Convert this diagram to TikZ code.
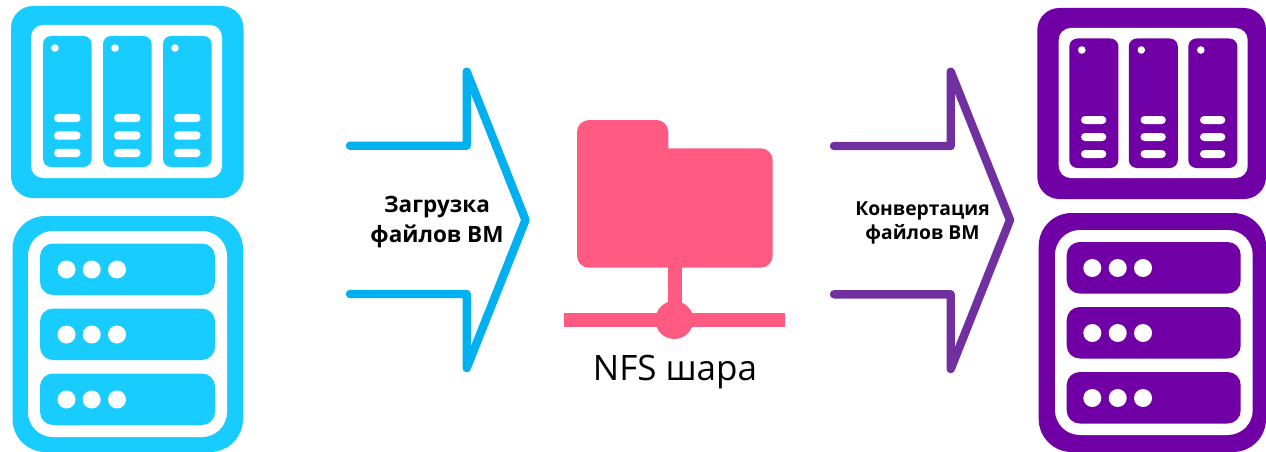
\documentclass[tikz,border=0pt]{standalone}
\usepackage{fontspec}
\setmainfont{Open Sans}
\definecolor{iconblue}{HTML}{19CCFF}
\definecolor{iconpurple}{HTML}{7000A5}
\definecolor{arrowblue}{HTML}{00B0F0}
\definecolor{arrowpurple}{HTML}{7030A0}
\definecolor{sharepink}{HTML}{FF5B82}
\tikzset{
  blockarrow/.style={line width=8.4pt,line cap=round,line join=round},
  hole/.style={fill=white},
  boldlabel/.style={align=center,font=\bfseries,inner sep=0pt},
}
\begin{document}
\begin{tikzpicture}[x=1pt,y=-1pt]
\useasboundingbox (0,0) rectangle (1266,452);
\fill[white] (0,0) rectangle (1266,452);
% left NAS
\fill[iconblue,rounded corners=22pt] (11,6) rectangle (243.5,198);
\fill[hole,rounded corners=12pt] (31,25) rectangle (222,178);
\foreach \x in {43,103,163}{
  \fill[iconblue,rounded corners=8pt] (\x,36) rectangle (\x+48.5,167);
  \fill[hole] (\x+12,48) circle[radius=3.8];
  \foreach \y in {118,135.5,153}
    \fill[hole,rounded corners=4pt] (\x+11,\y-4.2) rectangle (\x+37.5,\y+4.2);
}
% left rack
\fill[iconblue,rounded corners=33pt] (12.5,216) rectangle (243,452);
\fill[hole,rounded corners=25pt] (28,231) rectangle (227,437);
\foreach \y in {243.5,308.5,373.5}{
  \fill[iconblue,rounded corners=13pt] (40,\y) rectangle (215,\y+51.5);
  \foreach \x in {66.5,91.7,117}
    \fill[hole] (\x,\y+26) circle[radius=9];
}
% right NAS
\fill[iconpurple,rounded corners=22pt] (1037.3,8) rectangle (1266,199);
\fill[hole,rounded corners=12pt] (1058.7,28) rectangle (1247.7,178);
\foreach \x in {1069.3,1128.8,1188.3}{
  \fill[iconpurple,rounded corners=8pt] (\x,38.5) rectangle (\x+49,168);
  \fill[hole] (\x+12.5,50) circle[radius=3.8];
  \foreach \y in {120,137,154}
    \fill[hole,rounded corners=4pt] (\x+11.7,\y-4) rectangle (\x+37,\y+4);
}
% right rack
\fill[iconpurple,rounded corners=33pt] (1038.7,213) rectangle (1266,452);
\fill[hole,rounded corners=25pt] (1055,230) rectangle (1252.7,435);
\foreach \y in {242,307,372}{
  \fill[iconpurple,rounded corners=13pt] (1066.7,\y) rectangle (1240.7,\y+51.5);
  \foreach \x in {1092.3,1117.7,1143}
    \fill[hole] (\x,\y+26) circle[radius=9];
}
% block arrows
\draw[blockarrow,arrowblue] (350,145.7) -- (466.7,145.7) -- (466.7,71.7) -- (525.5,220) -- (466.7,368) -- (466.7,294) -- (350,294);
\draw[blockarrow,arrowpurple] (834,146) -- (950.7,146) -- (950.7,71.7) -- (1010,220) -- (950.7,369) -- (950.7,294.3) -- (834,294.3);
% NFS share icon
\fill[sharepink,rounded corners=12pt] (577,120) rectangle (668.3,200);
\fill[sharepink,rounded corners=12pt] (577,148.3) rectangle (772.7,267.7);
\fill[sharepink] (667.7,260) rectangle (682.3,320);
\fill[sharepink] (564.3,312.7) rectangle (785,327.3);
\fill[sharepink] (674.3,320) circle[radius=19];
% labels
\node[boldlabel,font=\fontsize{22.5}{30}\selectfont\bfseries] (upload) at (437,222.5) {Загрузка\\файлов ВМ};
\node[boldlabel,font=\fontsize{19.3}{24}\selectfont\bfseries] (convert) at (922.5,222.7) {Конвертация\\файлов ВМ};
\node[inner sep=0pt,font=\fontsize{35}{40}\selectfont] (share) at (675,372) {NFS шара};
\end{tikzpicture}
\end{document}
